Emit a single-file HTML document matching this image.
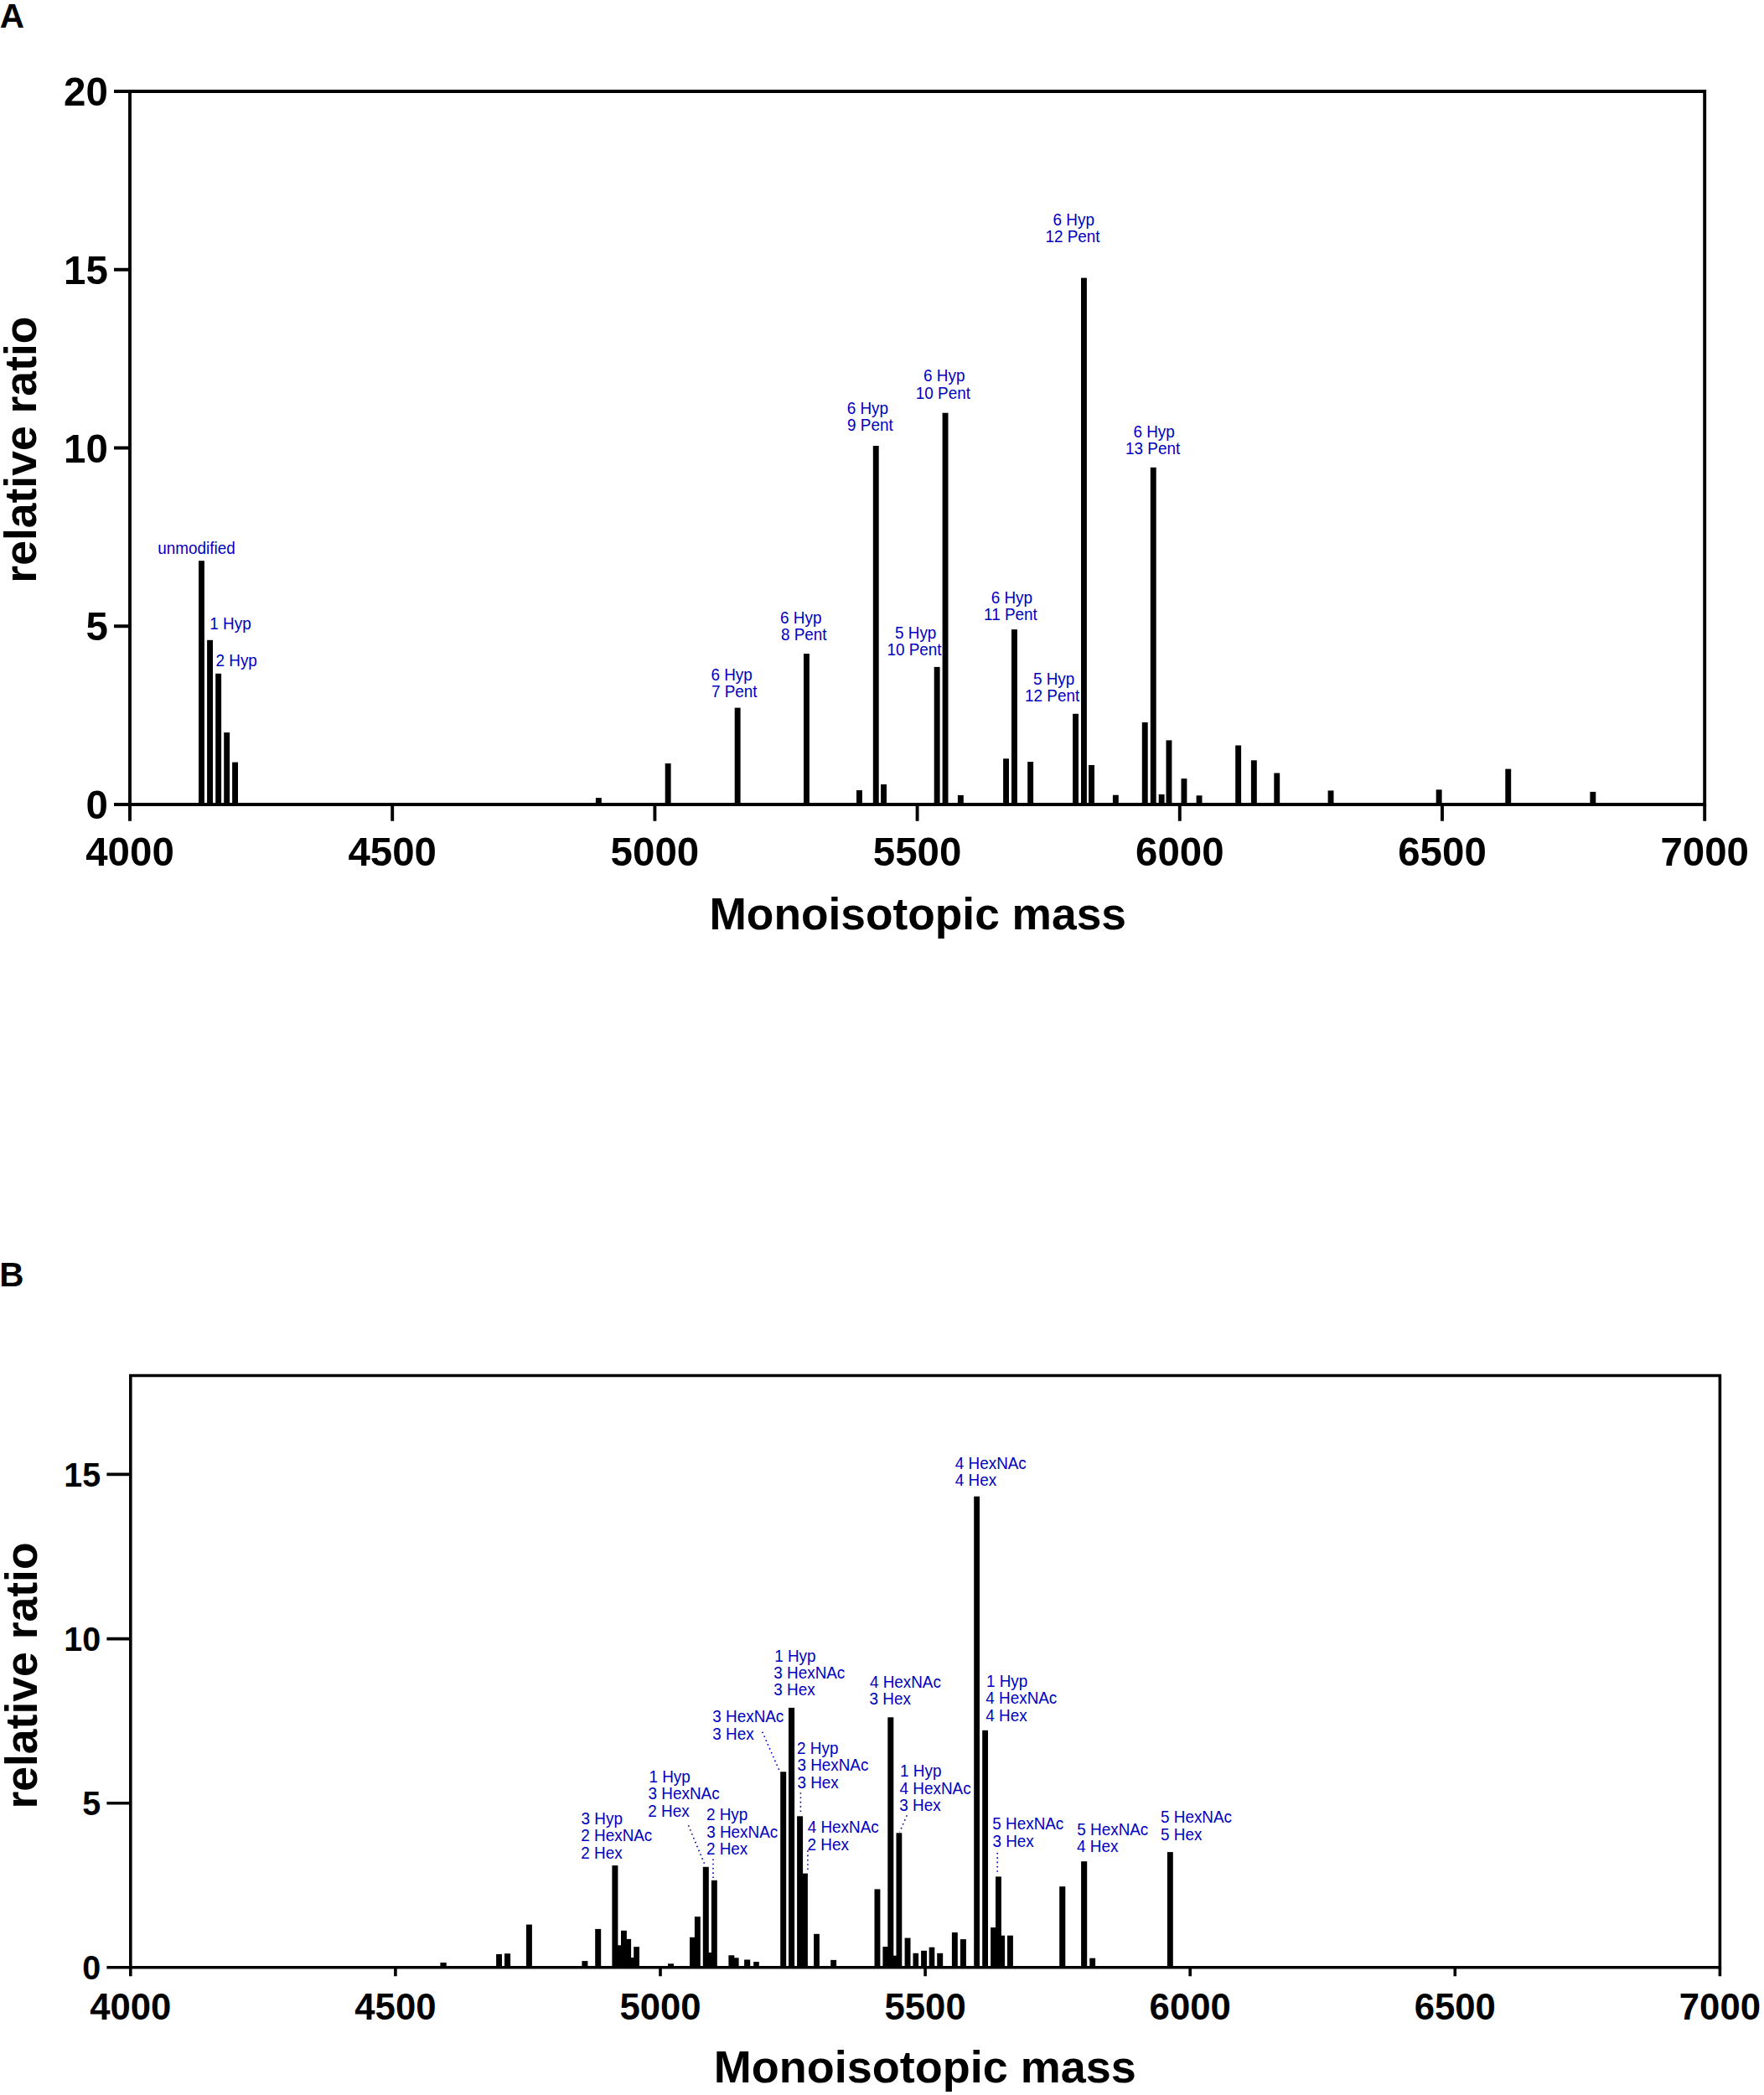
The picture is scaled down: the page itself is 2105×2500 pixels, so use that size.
<!DOCTYPE html>
<html><head><meta charset="utf-8"><title>Figure</title>
<style>html,body{margin:0;padding:0;background:#fff}svg{display:block}text{font-family:"Liberation Sans",Arial,Helvetica,sans-serif}</style>
</head><body>
<svg width="2105" height="2500" viewBox="0 0 2105 2500">
<rect width="2105" height="2500" fill="#fff"/>
<g fill="#000">
<rect x="237.0" y="669.2" width="6.9" height="290.8"/>
<rect x="247.1" y="763.8" width="6.9" height="196.2"/>
<rect x="257.2" y="803.8" width="6.9" height="156.2"/>
<rect x="267.2" y="874.1" width="6.9" height="85.9"/>
<rect x="277.1" y="909.6" width="6.9" height="50.4"/>
<rect x="710.9" y="952.1" width="6.9" height="7.9"/>
<rect x="793.7" y="911.0" width="6.9" height="49.0"/>
<rect x="876.7" y="844.6" width="6.9" height="115.4"/>
<rect x="959.0" y="780.1" width="6.9" height="179.9"/>
<rect x="1022.0" y="943.0" width="6.9" height="17.0"/>
<rect x="1041.8" y="532.0" width="6.9" height="428.0"/>
<rect x="1051.1" y="936.0" width="6.9" height="24.0"/>
<rect x="1114.7" y="795.9" width="6.9" height="164.1"/>
<rect x="1124.6" y="492.7" width="6.9" height="467.3"/>
<rect x="1142.9" y="948.9" width="6.9" height="11.1"/>
<rect x="1197.1" y="905.3" width="6.9" height="54.7"/>
<rect x="1207.0" y="751.1" width="6.9" height="208.9"/>
<rect x="1226.2" y="909.1" width="6.9" height="50.9"/>
<rect x="1280.1" y="851.8" width="6.9" height="108.2"/>
<rect x="1290.0" y="331.6" width="6.9" height="628.4"/>
<rect x="1299.1" y="913.0" width="6.9" height="47.0"/>
<rect x="1327.9" y="948.7" width="6.9" height="11.3"/>
<rect x="1362.8" y="862.0" width="6.9" height="98.0"/>
<rect x="1372.8" y="557.8" width="6.9" height="402.2"/>
<rect x="1382.7" y="947.9" width="6.9" height="12.1"/>
<rect x="1391.5" y="883.4" width="6.9" height="76.6"/>
<rect x="1409.5" y="929.1" width="6.9" height="30.9"/>
<rect x="1427.6" y="949.3" width="6.9" height="10.7"/>
<rect x="1474.2" y="889.5" width="6.9" height="70.5"/>
<rect x="1492.9" y="907.3" width="6.9" height="52.7"/>
<rect x="1520.3" y="922.5" width="6.9" height="37.5"/>
<rect x="1584.6" y="943.4" width="6.9" height="16.6"/>
<rect x="1713.7" y="942.3" width="6.9" height="17.7"/>
<rect x="1796.3" y="917.6" width="6.9" height="42.4"/>
<rect x="1897.4" y="944.9" width="6.9" height="15.1"/>
</g>
<path d="M155.0 960.0V109.0H2034.2V960.0H155.0" fill="none" stroke="#000" stroke-width="3.9" stroke-linejoin="miter" stroke-linecap="square"/>
<path d="M136 109.0H155.0M136 321.8H155.0M136 534.5H155.0M136 747.2H155.0M136 960.0H155.0M155.0 960.0V979.8M468.2 960.0V979.8M781.4 960.0V979.8M1094.6 960.0V979.8M1407.8 960.0V979.8M1721.0 960.0V979.8M2034.2 960.0V979.8" stroke="#000" stroke-width="3.9" fill="none"/>
<g font-weight="bold" font-size="47.5">
<text transform="translate(128.8 126.1) scale(1 1.025)" text-anchor="end">20</text>
<text transform="translate(128.8 338.9) scale(1 1.025)" text-anchor="end">15</text>
<text transform="translate(128.8 551.6) scale(1 1.025)" text-anchor="end">10</text>
<text transform="translate(128.8 764.4) scale(1 1.025)" text-anchor="end">5</text>
<text transform="translate(128.8 977.1) scale(1 1.025)" text-anchor="end">0</text>
<text transform="translate(155.0 1032.8) scale(1 1.025)" text-anchor="middle">4000</text>
<text transform="translate(468.2 1032.8) scale(1 1.025)" text-anchor="middle">4500</text>
<text transform="translate(781.4 1032.8) scale(1 1.025)" text-anchor="middle">5000</text>
<text transform="translate(1094.6 1032.8) scale(1 1.025)" text-anchor="middle">5500</text>
<text transform="translate(1407.8 1032.8) scale(1 1.025)" text-anchor="middle">6000</text>
<text transform="translate(1721.0 1032.8) scale(1 1.025)" text-anchor="middle">6500</text>
<text transform="translate(2034.2 1032.8) scale(1 1.025)" text-anchor="middle">7000</text>
</g>
<text x="1095.2" y="1108.5" font-weight="bold" font-size="53.3" text-anchor="middle">Monoisotopic mass</text>
<text transform="translate(43.2 536.6) rotate(-90)" font-weight="bold" font-size="53.5" text-anchor="middle">relative ratio</text>
<text transform="translate(-0.3 33.1) scale(1 1.025)" font-weight="bold" font-size="40.5">A</text>
<text transform="translate(-0.7 1535.3) scale(1 1.025)" font-weight="bold" font-size="40.5">B</text>
<g fill="#000">
<rect x="525.4" y="2342.0" width="7.3" height="5.8"/>
<rect x="592.1" y="2331.9" width="6.9" height="15.9"/>
<rect x="602.0" y="2331.2" width="7.1" height="16.6"/>
<rect x="627.9" y="2296.6" width="7.0" height="51.2"/>
<rect x="694.4" y="2340.1" width="7.0" height="7.7"/>
<rect x="710.2" y="2301.9" width="7.0" height="45.9"/>
<rect x="730.4" y="2226.1" width="7.0" height="121.7"/>
<rect x="734.0" y="2321.3" width="7.7" height="26.5"/>
<rect x="741.0" y="2303.8" width="6.9" height="44.0"/>
<rect x="746.0" y="2313.9" width="7.1" height="33.9"/>
<rect x="750.0" y="2336.0" width="6.9" height="11.8"/>
<rect x="756.2" y="2323.2" width="6.8" height="24.6"/>
<rect x="797.0" y="2343.3" width="7.0" height="4.5"/>
<rect x="823.0" y="2311.8" width="7.0" height="36.0"/>
<rect x="828.9" y="2287.2" width="6.9" height="60.6"/>
<rect x="838.8" y="2227.8" width="7.0" height="120.0"/>
<rect x="843.0" y="2330.0" width="6.6" height="17.8"/>
<rect x="848.9" y="2243.8" width="6.9" height="104.0"/>
<rect x="869.4" y="2333.3" width="6.9" height="14.5"/>
<rect x="875.0" y="2336.3" width="6.6" height="11.5"/>
<rect x="888.1" y="2338.5" width="7.1" height="9.3"/>
<rect x="899.2" y="2341.0" width="6.6" height="6.8"/>
<rect x="931.2" y="2114.3" width="7.0" height="233.5"/>
<rect x="941.0" y="2037.9" width="7.1" height="309.9"/>
<rect x="951.1" y="2167.3" width="7.0" height="180.5"/>
<rect x="957.0" y="2235.6" width="6.9" height="112.2"/>
<rect x="971.1" y="2307.8" width="6.8" height="40.0"/>
<rect x="991.2" y="2338.9" width="6.9" height="8.9"/>
<rect x="1043.5" y="2254.4" width="6.9" height="93.4"/>
<rect x="1053.4" y="2323.0" width="6.6" height="24.8"/>
<rect x="1059.3" y="2049.3" width="7.0" height="298.5"/>
<rect x="1063.0" y="2333.7" width="7.2" height="14.1"/>
<rect x="1069.5" y="2187.3" width="6.8" height="160.5"/>
<rect x="1079.6" y="2312.6" width="6.9" height="35.2"/>
<rect x="1089.5" y="2330.8" width="6.6" height="17.0"/>
<rect x="1099.1" y="2327.8" width="6.9" height="20.0"/>
<rect x="1108.7" y="2323.7" width="6.6" height="24.1"/>
<rect x="1118.2" y="2330.8" width="7.0" height="17.0"/>
<rect x="1135.9" y="2306.0" width="6.9" height="41.8"/>
<rect x="1145.9" y="2314.1" width="7.0" height="33.7"/>
<rect x="1162.2" y="1785.7" width="6.8" height="562.1"/>
<rect x="1172.2" y="2064.8" width="6.8" height="283.0"/>
<rect x="1182.1" y="2300.1" width="6.9" height="47.7"/>
<rect x="1188.0" y="2239.4" width="6.9" height="108.4"/>
<rect x="1193.0" y="2309.7" width="6.1" height="38.1"/>
<rect x="1202.0" y="2309.7" width="6.9" height="38.1"/>
<rect x="1264.2" y="2251.2" width="7.1" height="96.6"/>
<rect x="1290.1" y="2221.2" width="7.1" height="126.6"/>
<rect x="1300.3" y="2336.7" width="6.8" height="11.1"/>
<rect x="1392.9" y="2210.1" width="6.9" height="137.7"/>
</g>
<path d="M155.8 2347.8V1641.5H2052.4V2347.8H155.8" fill="none" stroke="#000" stroke-width="3.6" stroke-linejoin="miter" stroke-linecap="square"/>
<path d="M127.4 1759.4H155.8M127.4 1955.6H155.8M127.4 2151.8H155.8M127.4 2347.8H155.8M155.8 2347.8V2358.3M471.9 2347.8V2358.3M788.0 2347.8V2358.3M1104.1 2347.8V2358.3M1420.2 2347.8V2358.3M1736.3 2347.8V2358.3M2052.4 2347.8V2358.3" stroke="#000" stroke-width="3.6" fill="none"/>
<g font-weight="bold">
<text transform="translate(120.3 1774.0) scale(1 1.025)" font-size="39.5" text-anchor="end">15</text>
<text transform="translate(120.3 1970.2) scale(1 1.025)" font-size="39.5" text-anchor="end">10</text>
<text transform="translate(120.3 2166.4) scale(1 1.025)" font-size="39.5" text-anchor="end">5</text>
<text transform="translate(120.3 2362.4) scale(1 1.025)" font-size="39.5" text-anchor="end">0</text>
<text transform="translate(155.8 2409.5) scale(1 1.025)" font-size="43.7" text-anchor="middle">4000</text>
<text transform="translate(471.9 2409.5) scale(1 1.025)" font-size="43.7" text-anchor="middle">4500</text>
<text transform="translate(788.0 2409.5) scale(1 1.025)" font-size="43.7" text-anchor="middle">5000</text>
<text transform="translate(1104.1 2409.5) scale(1 1.025)" font-size="43.7" text-anchor="middle">5500</text>
<text transform="translate(1420.2 2409.5) scale(1 1.025)" font-size="43.7" text-anchor="middle">6000</text>
<text transform="translate(1736.3 2409.5) scale(1 1.025)" font-size="43.7" text-anchor="middle">6500</text>
<text transform="translate(2052.4 2409.5) scale(1 1.025)" font-size="43.7" text-anchor="middle">7000</text>
</g>
<text x="1103.8" y="2485.2" font-weight="bold" font-size="54" text-anchor="middle">Monoisotopic mass</text>
<text transform="translate(44.3 1999.5) rotate(-90)" font-weight="bold" font-size="53.5" text-anchor="middle">relative ratio</text>
<path d="M821.5 2178.3L841.9 2227.2M851 2218.4L851 2241M909.7 2066.7L931.1 2115.4M955.4 2139.2L955.4 2164M963.9 2208.3L963.9 2233M1082.2 2166.3L1073.5 2186.2M1190.2 2211L1190.2 2237" stroke="#0000c0" stroke-width="1.6" stroke-dasharray="1.6 3.7" fill="none"/>
<g fill="#0000c0" font-size="18.9">
<text transform="translate(188.3 660.8) scale(1 1.035)">unmodified</text>
<text transform="translate(250.3 751.0) scale(1 1.035)">1 Hyp</text>
<text transform="translate(257.5 794.6) scale(1 1.035)">2 Hyp</text>
<text transform="translate(848.4 811.6) scale(1 1.035)">6 Hyp</text>
<text transform="translate(849.0 832.2) scale(1 1.035)">7 Pent</text>
<text transform="translate(931.1 744.0) scale(1 1.035)">6 Hyp</text>
<text transform="translate(931.9 764.3) scale(1 1.035)">8 Pent</text>
<text transform="translate(1010.7 493.6) scale(1 1.035)">6 Hyp</text>
<text transform="translate(1011.1 514.1) scale(1 1.035)">9 Pent</text>
<text transform="translate(1068.0 761.6) scale(1 1.035)">5 Hyp</text>
<text transform="translate(1058.5 782.3) scale(1 1.035)">10 Pent</text>
<text transform="translate(1102.1 455.0) scale(1 1.035)">6 Hyp</text>
<text transform="translate(1092.8 475.7) scale(1 1.035)">10 Pent</text>
<text transform="translate(1182.7 719.9) scale(1 1.035)">6 Hyp</text>
<text transform="translate(1174.1 740.3) scale(1 1.035)">11 Pent</text>
<text transform="translate(1232.9 817.0) scale(1 1.035)">5 Hyp</text>
<text transform="translate(1223.1 837.2) scale(1 1.035)">12 Pent</text>
<text transform="translate(1256.6 268.8) scale(1 1.035)">6 Hyp</text>
<text transform="translate(1247.4 289.2) scale(1 1.035)">12 Pent</text>
<text transform="translate(1352.4 521.9) scale(1 1.035)">6 Hyp</text>
<text transform="translate(1343.1 542.3) scale(1 1.035)">13 Pent</text>
<text transform="translate(693.6 2176.7) scale(1 1.035)">3 Hyp</text>
<text transform="translate(693.3 2197.4) scale(1 1.035)">2 HexNAc</text>
<text transform="translate(693.3 2218.0) scale(1 1.035)">2 Hex</text>
<text transform="translate(774.4 2126.6) scale(1 1.035)">1 Hyp</text>
<text transform="translate(773.6 2147.3) scale(1 1.035)">3 HexNAc</text>
<text transform="translate(773.3 2167.9) scale(1 1.035)">2 Hex</text>
<text transform="translate(842.9 2172.2) scale(1 1.035)">2 Hyp</text>
<text transform="translate(843.2 2192.8) scale(1 1.035)">3 HexNAc</text>
<text transform="translate(842.9 2213.1) scale(1 1.035)">2 Hex</text>
<text transform="translate(850.3 2055.0) scale(1 1.035)">3 HexNAc</text>
<text transform="translate(850.3 2075.6) scale(1 1.035)">3 Hex</text>
<text transform="translate(924.2 1982.5) scale(1 1.035)">1 Hyp</text>
<text transform="translate(923.3 2002.8) scale(1 1.035)">3 HexNAc</text>
<text transform="translate(923.3 2023.3) scale(1 1.035)">3 Hex</text>
<text transform="translate(951.1 2092.8) scale(1 1.035)">2 Hyp</text>
<text transform="translate(951.4 2113.4) scale(1 1.035)">3 HexNAc</text>
<text transform="translate(951.4 2134.1) scale(1 1.035)">3 Hex</text>
<text transform="translate(963.7 2187.2) scale(1 1.035)">4 HexNAc</text>
<text transform="translate(963.5 2207.6) scale(1 1.035)">2 Hex</text>
<text transform="translate(1037.9 2013.7) scale(1 1.035)">4 HexNAc</text>
<text transform="translate(1037.6 2033.9) scale(1 1.035)">3 Hex</text>
<text transform="translate(1074.1 2119.9) scale(1 1.035)">1 Hyp</text>
<text transform="translate(1073.6 2140.6) scale(1 1.035)">4 HexNAc</text>
<text transform="translate(1073.3 2160.9) scale(1 1.035)">3 Hex</text>
<text transform="translate(1139.8 1752.8) scale(1 1.035)">4 HexNAc</text>
<text transform="translate(1139.8 1773.4) scale(1 1.035)">4 Hex</text>
<text transform="translate(1176.9 2012.8) scale(1 1.035)">1 Hyp</text>
<text transform="translate(1176.3 2033.4) scale(1 1.035)">4 HexNAc</text>
<text transform="translate(1176.3 2053.7) scale(1 1.035)">4 Hex</text>
<text transform="translate(1184.3 2183.4) scale(1 1.035)">5 HexNAc</text>
<text transform="translate(1184.4 2204.1) scale(1 1.035)">3 Hex</text>
<text transform="translate(1285.3 2189.7) scale(1 1.035)">5 HexNAc</text>
<text transform="translate(1285.0 2210.4) scale(1 1.035)">4 Hex</text>
<text transform="translate(1385.0 2175.3) scale(1 1.035)">5 HexNAc</text>
<text transform="translate(1385.0 2195.9) scale(1 1.035)">5 Hex</text>
</g>
</svg>
</body></html>
